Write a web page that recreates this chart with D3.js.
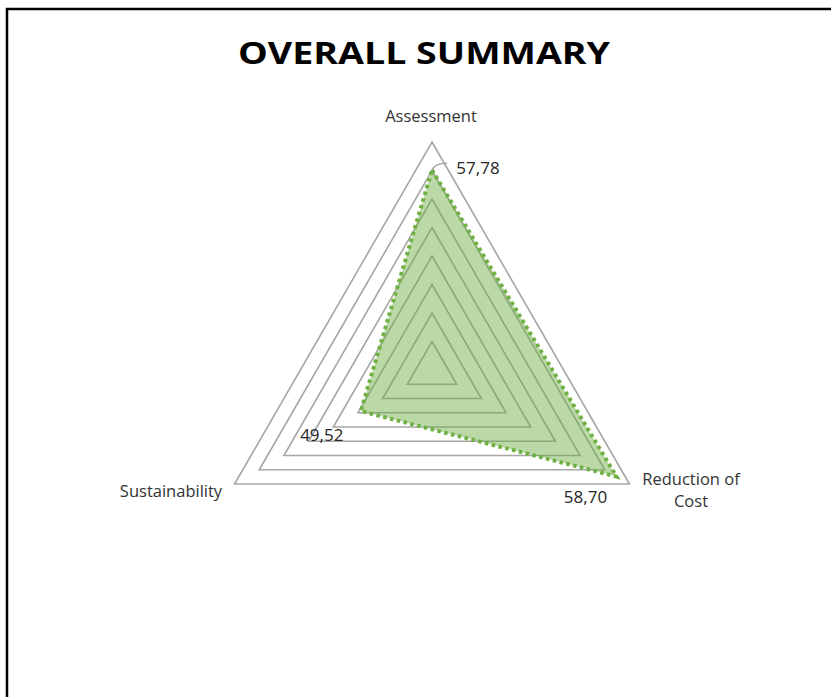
<!DOCTYPE html>
<html>
<head>
<meta charset="utf-8">
<script src="https://cdn.jsdelivr.net/npm/d3@7"></script>
<style>
  html, body { margin: 0; padding: 0; background: #fff; }
  svg { display: block; }
</style>
</head>
<body>
<svg id="chart" width="831" height="697"></svg>
<script>
// Radar chart data
const categories = ["Assessment", "Reduction of Cost", "Sustainability"];
const categoryLines = [["Assessment"], ["Reduction of", "Cost"], ["Sustainability"]];
const values = [57.78, 58.70, 49.52];
const valueLabels = ["57,78", "58,70", "49,52"];
const axisMin = 43.75;
const axisMax = 59.75;
const gridLevels = 8;

const svg = d3.select("#chart");
const W = 831, H = 697;

// chart frame
svg.append("rect")
  .attr("x", 7).attr("y", 9)
  .attr("width", W + 20).attr("height", H + 20)
  .attr("fill", "#fff").attr("stroke", "#000").attr("stroke-width", 2.5);

svg.append("text")
  .attr("x", 424).attr("y", 64)
  .attr("text-anchor", "middle")
  .attr("font-family", "'Open Sans', sans-serif")
  .attr("font-weight", 700)
  .attr("font-size", 30)
  .attr("textLength", 372)
  .attr("lengthAdjust", "spacingAndGlyphs")
  .attr("fill", "#000")
  .text("OVERALL SUMMARY");

const cx = 432, cy = 370, R = 228;
const angle = d3.scaleOrdinal().domain(categories).range([-90, 30, 150].map(a => a * Math.PI / 180));
const r = d3.scaleLinear().domain([axisMin, axisMax]).range([0, R]);

const pt = (cat, rad) => [cx + rad * Math.cos(angle(cat)), cy + rad * Math.sin(angle(cat))];

// grid triangles
const g = svg.append("g");
d3.range(1, gridLevels + 1).forEach(i => {
  const rad = R * i / gridLevels;
  g.append("polygon")
    .attr("points", categories.map(c => pt(c, rad).join(",")).join(" "))
    .attr("fill", "none")
    .attr("stroke", "#a6a6a6")
    .attr("stroke-width", 1.6);
});

// series area
const pts = categories.map((c, i) => pt(c, r(values[i])));
svg.append("polygon")
  .attr("points", pts.map(p => p.join(",")).join(" "))
  .attr("fill", "rgba(112,173,71,0.48)")
  .attr("stroke", "none");
svg.append("polygon")
  .attr("points", pts.map(p => p.join(",")).join(" "))
  .attr("fill", "none")
  .attr("stroke", "#6fb043")
  .attr("stroke-width", 4)
  .attr("stroke-dasharray", "3.5 3.5");

// leader line for the top value label
svg.append("path")
  .attr("d", `M${pts[0][0]},${pts[0][1]} Q${pts[0][0] + 3},${pts[0][1] - 7} ${pts[0][0] + 15},${pts[0][1] - 7}`)
  .attr("fill", "none").attr("stroke", "#a6a6a6").attr("stroke-width", 1.3);

// value labels
const labelOffsets = [[46, -1], [-31, 22], [-39, 25]];
svg.selectAll(".val").data(values).enter().append("text")
  .attr("class", "val")
  .attr("x", (d, i) => pts[i][0] + labelOffsets[i][0])
  .attr("y", (d, i) => pts[i][1] + labelOffsets[i][1])
  .attr("text-anchor", "middle")
  .attr("dominant-baseline", "middle")
  .attr("font-family", "'Open Sans', sans-serif")
  .attr("font-size", 17)
  .attr("fill", "#262626")
  .text((d, i) => valueLabels[i]);

// category labels
const catPos = [[431, 118, "middle"], [691, 481, "middle"], [171, 493, "middle"]];
categories.forEach((c, i) => {
  const t = svg.append("text")
    .attr("x", catPos[i][0]).attr("y", catPos[i][1])
    .attr("text-anchor", catPos[i][2])
    .attr("dominant-baseline", "middle")
    .attr("font-family", "'Open Sans', sans-serif")
    .attr("font-size", 16.5)
    .attr("fill", "#333");
  categoryLines[i].forEach((line, j) => {
    t.append("tspan").attr("x", catPos[i][0]).attr("dy", j === 0 ? 0 : 22).text(line);
  });
});
</script>
</body>
</html>
